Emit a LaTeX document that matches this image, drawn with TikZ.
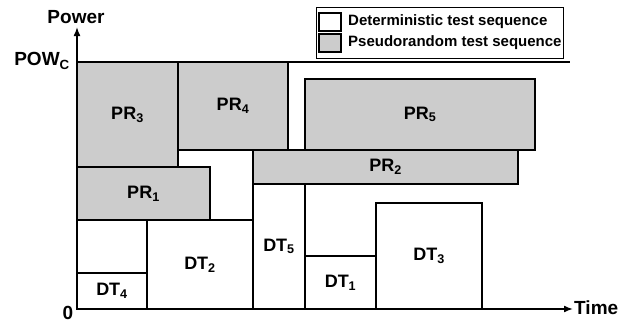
\documentclass[tikz,border=0pt]{standalone}
\usepackage{fontspec}
\setmainfont{Liberation Sans}
\usetikzlibrary{arrows.meta}
\definecolor{prgray}{HTML}{CCCCCC}
\tikzset{
  box/.style={draw=black, line width=1.6pt, inner sep=0pt, outer sep=0pt,
    font=\fontsize{18}{20}\selectfont\bfseries},
  prbox/.style={box, fill=prgray},
  dtbox/.style={box, fill=white},
  axis/.style={line width=1.6pt, -{Latex[length=9pt,width=7pt]}},
  lbl/.style={inner sep=0pt, font=\fontsize{19}{21}\selectfont\bfseries},
  legtext/.style={inner sep=0pt, anchor=west, font=\fontsize{15}{17}\selectfont\bfseries},
  legsq/.style={draw=black, line width=1.1pt, inner sep=0pt, minimum width=22pt, minimum height=18pt},
}
\newcommand{\bx}[7]{% style, name, x1, y1, x2, y2, text
  \node[#1, minimum width={#5-#3}, minimum height={#6-#4}] (#2) at ({(#3+#5)/2},{(#4+#6)/2}) {#7};}
\begin{document}
\begin{tikzpicture}[x=1pt,y=-1pt]
\useasboundingbox (0,0) rectangle (631,324);
% grey boxes
\bx{prbox}{pr3}{77}{62}{178}{167}{PR\textsubscript{3}}
\bx{prbox}{pr4}{178}{62}{288}{150}{PR\textsubscript{4}}
\bx{prbox}{pr5}{305}{79}{535}{150}{PR\textsubscript{5}}
\bx{prbox}{pr2}{253}{150}{518}{184}{PR\textsubscript{2}}
\bx{prbox}{pr1}{77}{167}{210}{220}{PR\textsubscript{1}}
% white boxes
\bx{dtbox}{gap}{77}{220}{147}{273}{}
\bx{dtbox}{dt4}{77}{273}{147}{309}{DT\textsubscript{4}}
\bx{dtbox}{dt2}{147}{220}{253}{309}{DT\textsubscript{2}}
\bx{dtbox}{dt5}{253}{184}{305}{309}{DT\textsubscript{5}}
\bx{dtbox}{dt1}{305}{256}{376}{309}{DT\textsubscript{1}}
\bx{dtbox}{dt3}{376}{203}{482}{309}{DT\textsubscript{3}}
% axes
\coordinate (O) at (77,309);
\coordinate (ytop) at (77,27);
\coordinate (xend) at (573,309);
\coordinate (pcl) at (77,62);
\coordinate (pcr) at (570,62);
\draw[line width=1.6pt] (pcl) -- (pcr);
\draw[axis] (O) -- (ytop);
\draw[axis] (O) -- (xend);
\node[lbl] (power) at (76,17) {Power};
\node[lbl, anchor=east] (powc) at (70,61) {POW\textsubscript{C}};
\node[lbl] (zero) at (68,313) {0};
\node[lbl, anchor=west] (time) at (574,308) {Time};
% legend
\node[draw=black, line width=0.8pt, minimum width=247pt, minimum height=51pt, inner sep=0pt] (legend) at (439.5,32.5) {};
\node[legsq, fill=white] (sqd) at (330,22) {};
\node[legsq, fill=prgray] (sqp) at (330,43) {};
\node[legtext] (ltd) at (348,22) {Deterministic test sequence};
\node[legtext] (ltp) at (348,43) {Pseudorandom test sequence};
\end{tikzpicture}
\end{document}
